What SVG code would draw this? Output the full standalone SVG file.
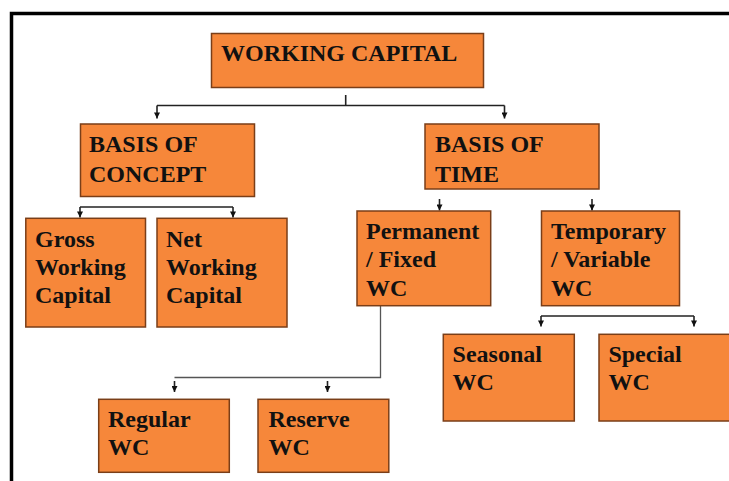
<svg xmlns="http://www.w3.org/2000/svg" width="729" height="481" viewBox="0 0 729 481">
<defs>
<style>
.box{fill:#F6873A;stroke:#7A3E18;stroke-width:1.5}
.t{font-family:"Liberation Serif","Times New Roman",serif;font-weight:bold;font-size:24px;fill:#111}
.c{fill:none;stroke:#222;stroke-width:1.6}
.cg{fill:none;stroke:#555;stroke-width:1.3}
</style>
<marker id="ah" viewBox="0 0 8 8" refX="4" refY="8" markerWidth="6" markerHeight="6" markerUnits="userSpaceOnUse" orient="auto-start-reverse">
<path d="M0,0 L8,0 L4,8 Z" fill="#111"/>
</marker>
<marker id="ah2" viewBox="0 0 10 10" refX="5" refY="10" markerWidth="6" markerHeight="7" markerUnits="userSpaceOnUse" orient="0">
<path d="M0,0 L10,0 L5,10 Z" fill="#111"/>
</marker>
</defs>
<rect x="0" y="0" width="729" height="481" fill="#fff"/>
<rect x="11.5" y="13.5" width="730" height="480" fill="none" stroke="#000" stroke-width="3.5"/>
<g id="connectors">
<path class="c" d="M345.7,95 V105.5 M157,105.5 H504.5"/>
<path class="c" d="M157,105.5 V118.5" marker-end="url(#ah2)"/>
<path class="c" d="M504.5,105.5 V118.5" marker-end="url(#ah2)"/>
<path class="c" d="M80,207 H233"/>
<path class="c" d="M80,207 V217.5" marker-end="url(#ah2)"/>
<path class="c" d="M233,207 V217.5" marker-end="url(#ah2)"/>
<path class="c" d="M439.5,199 V210.5" marker-end="url(#ah2)"/>
<path class="c" d="M592,199 V210.5" marker-end="url(#ah2)"/>
<path class="cg" d="M380.5,306 V377.5 H174.5"/>
<path class="c" d="M174.5,381 V392" marker-end="url(#ah2)"/>
<path class="c" d="M327.5,381 V392" marker-end="url(#ah2)"/>
<path class="c" d="M541,316 H694"/>
<path class="c" d="M541,316 V326.5" marker-end="url(#ah2)"/>
<path class="c" d="M694,316 V326.5" marker-end="url(#ah2)"/>
</g>
<g id="working-capital">
<rect class="box" x="211.5" y="33.5" width="272" height="54"/>
<text class="t" x="221" y="61">WORKING CAPITAL</text>
</g>
<g id="basis-concept">
<rect class="box" x="80.5" y="124" width="174" height="72.5"/>
<text class="t" x="89" y="151.7">BASIS OF</text>
<text class="t" x="89" y="181.7">CONCEPT</text>
</g>
<g id="basis-time">
<rect class="box" x="425" y="124" width="174" height="65"/>
<text class="t" x="435" y="151.7">BASIS OF</text>
<text class="t" x="435" y="181.7">TIME</text>
</g>
<g id="gross">
<rect class="box" x="25.8" y="218.3" width="119.7" height="108.7"/>
<text class="t" x="35" y="246.7">Gross</text>
<text class="t" x="35" y="275">Working</text>
<text class="t" x="35" y="303.3">Capital</text>
</g>
<g id="net">
<rect class="box" x="157" y="218.3" width="130" height="108.7"/>
<text class="t" x="166" y="246.7">Net</text>
<text class="t" x="166" y="275">Working</text>
<text class="t" x="166" y="303.3">Capital</text>
</g>
<g id="permanent">
<rect class="box" x="357" y="211" width="133.7" height="94.7"/>
<text class="t" x="366" y="239">Permanent</text>
<text class="t" x="366" y="267.3">/ Fixed</text>
<text class="t" x="366" y="296">WC</text>
</g>
<g id="temporary">
<rect class="box" x="541.5" y="211" width="138" height="94.7"/>
<text class="t" x="551" y="239">Temporary</text>
<text class="t" x="551" y="267.3">/ Variable</text>
<text class="t" x="551" y="296">WC</text>
</g>
<g id="seasonal">
<rect class="box" x="443.3" y="334.3" width="131" height="86.7"/>
<text class="t" x="452.6" y="361.7">Seasonal</text>
<text class="t" x="452.6" y="390">WC</text>
</g>
<g id="special">
<rect class="box" x="599" y="334.3" width="140" height="86.7"/>
<text class="t" x="608.4" y="361.7">Special</text>
<text class="t" x="608.4" y="390">WC</text>
</g>
<g id="regular">
<rect class="box" x="98.7" y="399.3" width="130.6" height="73"/>
<text class="t" x="108" y="426.7">Regular</text>
<text class="t" x="108" y="455">WC</text>
</g>
<g id="reserve">
<rect class="box" x="258" y="399.3" width="130.8" height="73"/>
<text class="t" x="268.4" y="426.7">Reserve</text>
<text class="t" x="268.4" y="455">WC</text>
</g>
</svg>
